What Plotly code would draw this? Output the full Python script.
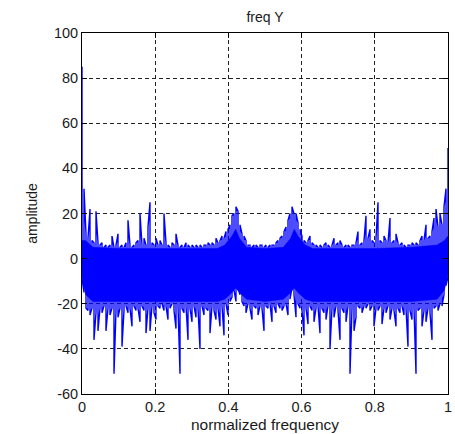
import plotly.graph_objects as go

# Upper and lower envelope of the spectrum, read column by column (184 columns over [0, 1])
UPPER = [85, 31, 11, 9, 22, 8, 7, 21, 7, 6,
         7, 5, 6, 5, 6, 10, 5, 6, 11, 5,
         6, 5, 7, 17, 6, 5, 6, 7, 8, 20,
         6, 9, 6, 14, 25, 7, 6, 9, 6, 8,
         6, 20, 7, 6, 5, 7, 6, 11, 6, 5,
         6, 5, 7, 6, 5, 6, 5, 6, 5, 6,
         5, 6, 6, 7, 6, 7, 6, 9, 7, 8,
         10, 9, 12, 13, 15, 19, 20, 23, 21, 15,
         11, 10, 8, 6, 6, 5, 6, 6, 5, 6,
         6, 5, 6, 5, 6, 6, 6, 7, 8, 9,
         10, 12, 14, 17, 20, 23, 20, 20, 16, 13,
         10, 8, 7, 8, 10, 7, 6, 6, 5, 6,
         5, 6, 7, 6, 5, 6, 9, 6, 7, 8,
         6, 5, 6, 6, 5, 6, 6, 7, 12, 6,
         7, 8, 19, 9, 13, 8, 7, 9, 25, 8,
         7, 10, 8, 7, 18, 7, 8, 11, 7, 6,
         7, 6, 5, 6, 6, 7, 6, 7, 6, 8,
         10, 8, 15, 9, 10, 12, 18, 22, 14, 20,
         15, 23, 31, 49]

LOWER = [-9, -15, -22, -23, -25, -22, -36, -24, -32, -22,
         -24, -21, -32, -22, -25, -22, -51, -23, -26, -22,
         -39, -23, -21, -24, -22, -30, -21, -23, -22, -28,
         -21, -23, -33, -22, -32, -21, -24, -27, -21, -22,
         -20, -23, -21, -27, -22, -20, -23, -31, -21, -51,
         -22, -24, -21, -36, -22, -28, -21, -26, -22, -40,
         -21, -25, -22, -23, -33, -21, -23, -27, -22, -30,
         -21, -34, -20, -25, -19, -17, -14, -19, -13, -16,
         -19, -21, -24, -20, -22, -27, -21, -22, -25, -21,
         -22, -32, -21, -22, -20, -28, -21, -24, -20, -22,
         -23, -21, -20, -25, -18, -13, -16, -26, -20, -22,
         -23, -34, -22, -29, -21, -23, -28, -22, -21, -33,
         -22, -24, -27, -21, -40, -22, -26, -21, -23, -36,
         -22, -24, -28, -21, -51, -22, -32, -26, -21, -22,
         -24, -21, -22, -20, -23, -21, -30, -22, -23, -21,
         -29, -22, -24, -21, -27, -22, -23, -30, -22, -24,
         -21, -25, -22, -39, -23, -27, -22, -51, -23, -22,
         -30, -23, -28, -22, -24, -36, -22, -21, -23, -20,
         -21, -16, -12, -8]

# Dense (solid-looking) core of the noise band, read at a coarser set of frequencies
CORE_FREQ = [0, 0.01, 0.03, 0.1, 0.2, 0.3, 0.37, 0.39, 0.41, 0.42, 0.43, 0.45,
             0.5, 0.55, 0.57, 0.58, 0.59, 0.61, 0.63, 0.7, 0.8, 0.9, 0.97, 0.99, 1]
CORE_TOP = [8, 8, 5, 4.5, 4.5, 4.5, 4.5, 6, 10, 13, 9, 5,
            4.5, 5, 9, 13, 10, 6, 4.5, 4.5, 4.5, 5, 6, 8, 10]
CORE_BOTTOM = [-8, -16, -19, -19, -19, -19, -19, -18, -15, -13, -15, -18,
               -19, -18, -15, -13, -15, -18, -19, -19, -19, -19, -18, -14, -7]

assert len(UPPER) == len(LOWER)

X_TICKS = [0, 0.2, 0.4, 0.6, 0.8, 1]
X_TICK_TEXT = ["0", "0.2", "0.4", "0.6", "0.8", "1"]
Y_TICKS = [-60, -40, -20, 0, 20, 40, 60, 80, 100]
Y_TICK_TEXT = ["-60", "-40", "-20", "0", "20", "40", "60", "80", "100"]

n = len(UPPER)
freq = [i / (n - 1) for i in range(n)]

xs, ys = [], []
for i in range(n):
    pair = (UPPER[i], LOWER[i]) if i % 2 == 0 else (LOWER[i], UPPER[i])
    xs.extend([freq[i], freq[i]])
    ys.extend(pair)

BLUE = "#0000ff"
fig = go.Figure()
# solid core band
fig.add_trace(go.Scatter(x=CORE_FREQ + CORE_FREQ[::-1], y=CORE_TOP + CORE_BOTTOM[::-1],
                         mode="lines", fill="toself", fillcolor=BLUE,
                         line=dict(color=BLUE, width=0.5),
                         hoverinfo="skip", showlegend=False))
# individual spectral lines
fig.add_trace(go.Scatter(x=xs, y=ys, mode="lines",
                         line=dict(color=BLUE, width=1.4),
                         hoverinfo="skip", showlegend=False))

FAMILY = "Liberation Sans, Arial, sans-serif"
TEXT = "#1a1a1a"
tick_font = dict(family=FAMILY, size=14.5, color=TEXT)
axis_common = dict(
    showline=True, linecolor="#000000", linewidth=1, mirror="ticks",
    ticks="inside", ticklen=5, tickcolor="#000000",
    showgrid=True, gridcolor="#222222", gridwidth=1, griddash="4px,3px",
    zeroline=False, tickfont=tick_font, automargin=False,
)

fig.update_layout(
    width=455, height=434,
    margin=dict(l=82, r=7, t=33, b=40),
    paper_bgcolor="white", plot_bgcolor="white",
    font=dict(family=FAMILY, size=14, color=TEXT),
    title=dict(text="freq Y", x=265 / 455, xref="container", xanchor="center",
               y=1 - 17 / 434, yref="container", yanchor="middle",
               font=dict(family=FAMILY, size=14, color=TEXT)),
    xaxis=dict(range=[0, 1], tickvals=X_TICKS, ticktext=X_TICK_TEXT,
               title=dict(text="normalized frequency",
                          font=dict(family=FAMILY, size=15.5, color=TEXT), standoff=4),
               **axis_common),
    yaxis=dict(range=[-60, 100], tickvals=Y_TICKS, ticktext=Y_TICK_TEXT,
               title=dict(text="amplitude",
                          font=dict(family=FAMILY, size=14, color=TEXT), standoff=12),
               **axis_common),
)

fig.write_html("out.html", config={"displayModeBar": False},
               post_script="document.body.style.margin='0';document.body.style.padding='0';")
